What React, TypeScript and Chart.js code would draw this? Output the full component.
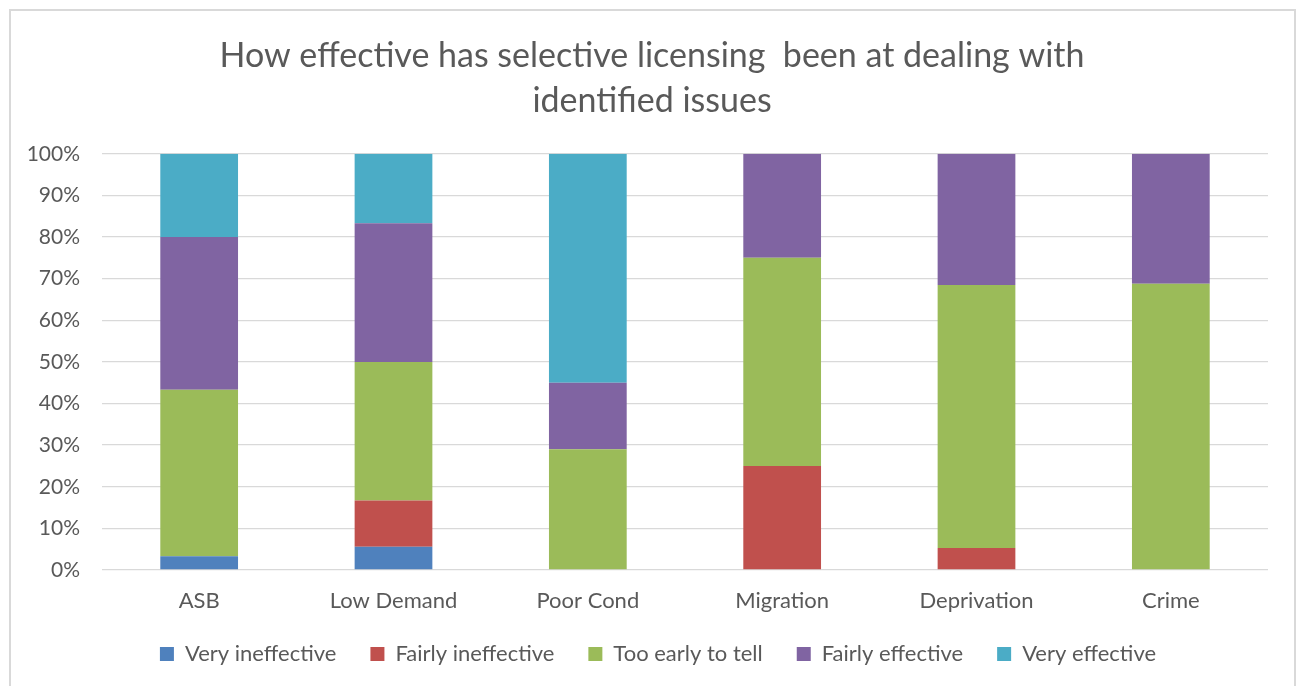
import React, { useEffect, useRef } from "react";
import { Chart, registerables } from "chart.js";

Chart.register(...registerables);

const categories = ["ASB", "Low Demand", "Poor Cond", "Migration", "Deprivation", "Crime"];
const veryIneffective = [3.3, 5.6, 0, 0, 0, 0];
const fairlyIneffective = [0, 11.1, 0, 25, 5.3, 0];
const tooEarlyToTell = [40, 33.3, 29, 50, 63.2, 68.75];
const fairlyEffective = [36.7, 33.3, 16, 25, 31.5, 31.25];
const veryEffective = [20, 16.7, 55, 0, 0, 0];
const yTicks = [0, 10, 20, 30, 40, 50, 60, 70, 80, 90, 100];
const titleLines = ["How effective has selective licensing  been at dealing with", "identified issues"];

const FONT = "Lato, 'Open Sans', sans-serif";
const GREY = "#595959";

const shiftPlugin = {
  id: "shiftBoxes",
  afterLayout(chart: any) {
    const t = chart.titleBlock;
    if (t) { t.left += 18; t.right += 18; }
    const lg = chart.legend;
    if (lg) { lg.left += 24; lg.right += 24; }
    const x = chart.scales.x;
    if (x) { x.bottom += 30; }
  },
};

export default function App() {
  const ref = useRef<HTMLCanvasElement | null>(null);
  useEffect(() => {
    if (!ref.current) return;
    const chart = new Chart(ref.current, {
      type: "bar",
      data: {
        labels: categories,
        datasets: [
          { label: "Very ineffective", data: veryIneffective, backgroundColor: "#4f81bd" },
          { label: "Fairly ineffective", data: fairlyIneffective, backgroundColor: "#c0504d" },
          { label: "Too early to tell", data: tooEarlyToTell, backgroundColor: "#9bbb59" },
          { label: "Fairly effective", data: fairlyEffective, backgroundColor: "#8064a2" },
          { label: "Very effective", data: veryEffective, backgroundColor: "#4bacc6" },
        ],
      },
      plugins: [shiftPlugin],
      options: {
        responsive: false,
        animation: false,
        devicePixelRatio: 1,
        datasets: { bar: { categoryPercentage: 1, barPercentage: 0.4 } },
        layout: { padding: { left: 0, right: 32, top: 0, bottom: 11 } },
        plugins: {
          title: {
            display: true,
            text: titleLines,
            color: GREY,
            font: { family: FONT, size: 34, weight: "normal", lineHeight: 1.32 },
            padding: { top: 34, bottom: 30 },
          },
          legend: {
            position: "bottom",
            labels: {
              color: GREY,
              font: { family: FONT, size: 22 },
              boxWidth: 14,
              boxHeight: 14,
              padding: 34,
            },
          },
          tooltip: { enabled: false },
        },
        scales: {
          x: {
            stacked: true,
            afterFit: (s: any) => { s.height = 39; },
            grid: { display: false, drawTicks: false },
            border: { display: false },
            ticks: { color: GREY, font: { family: FONT, size: 22 }, padding: 18 },
          },
          y: {
            stacked: true,
            min: 0,
            max: 100,
            afterFit: (s: any) => { s.width = 102; },
            afterBuildTicks: (s: any) => { s.ticks = yTicks.map((v) => ({ value: v })); },
            grid: { color: "#d9d9d9", lineWidth: 1.3, drawTicks: false },
            border: { display: false },
            ticks: {
              color: GREY,
              font: { family: FONT, size: 21 },
              padding: 22,
              callback: (v: any) => v + "%",
            },
          },
        },
      },
    });
    return () => chart.destroy();
  }, []);
  return (
    <div>
      <canvas
        ref={ref}
        width={1300}
        height={686}
        style={{ position: "fixed", left: 0, top: 0, width: 1300, height: 686 }}
      />
      <div
        style={{
          position: "fixed",
          left: 9,
          top: 9,
          width: 1287,
          height: 700,
          border: "2px solid #d9d9d9",
          boxSizing: "border-box",
          pointerEvents: "none",
        }}
      />
    </div>
  );
}
